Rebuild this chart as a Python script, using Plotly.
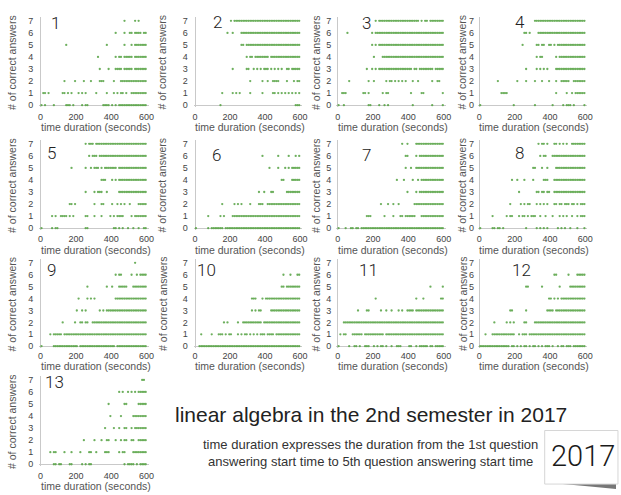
import plotly.graph_objects as go

# Each list holds one string per answer count (index 0..7).  Every character is
# a 10-second slot from 0 s to 600 s; '#' marks a student recorded in that slot.
q1 = [
    "#.#....#.. ....###.#. ...#.##... .....####. #.#.###### ##########",
    ".##.#..... ..##.#.#.. .#.#.#.... .#.....#.. .#.#.##.#. .#########",
    ".......... ...#.....# ....#...#. ...###.... .#...##### ##########",
    ".......... .......... .......... ...#....#. ..####.### ##.#######",
    ".......... .......... .......... ..#....... ..#.##.### ##.#######",
    ".......... ....#..... .......... .......#.. .......#.. .#.#######",
    ".......... .......... .......... .......... ..#....#.. ##.####.##",
    ".......... .......... .......... .......... .......#.. ...#.#....",
]
q2 = [
    ".......... ....#..... .......... .......... .......... .......###",
    ".......... .....#.... .#.#.#.... .#......#. ....##.#.# .#.#.#.#.#",
    ".......... .......... .......... .#......#. .#..####.. ..#...#.##",
    ".......... .......... .#.......# #..#.#.#.# ##.#.#.#.# ..##.#####",
    ".......... .......... .........# .##.###### ##.####### ##########",
    ".......... .......... ......##.# ########## ########## ##########",
    ".......... ........#. .#....#### ########## ########## ##########",
    ".......... .......... #.######## ########## ########## ##########",
]
q3 = [
    "#..#...... .......##. ...#..#.#. .......... ..#....... ...#.....#",
    "..###..... ....##.#.. .....#.##. .......... .#.....##. .........#",
    "......#... .......#.. #......#.# #.#.#.#.#. ..#..#.... ...#..##..",
    ".......... ......#..# .#.####### ########## ##.##.#### ####.#####",
    ".......... .......... #....##### ########## ########## ##########",
    ".......... .........# .#.####### ########## ########## ##########",
    ".....#.... .........# .######### ########## ########## ##########",
    ".......... .......... .#.####### ########## ######.#.# #.########",
]
q4 = [
    "#......... .........# .......... .#........ .#.....#.# ##.#.....#",
    ".......... ..####.... .......... .......... ...#.....# ..#.######",
    ".......... #......... .#....#... .#...#...# ...#..#### #..#######",
    ".......... .......... ......#... ..#.#.#.#. ...####### ##########",
    ".......... .......... .......... ..#.##.... ...#.##### ##########",
    ".......... .......... ....#..... ..##.##..# #.#.###### ##########",
    ".......... .......... .....##.#. ...####### ########## ##########",
    ".......... .......... .......... .######### ########## ##########",
]
q5 = [
    "#.....#.## .......... .....##... .......... .##.#.#..# ..#..#..##",
    "......#.#. .####.#.#. .....##... #...#....# .#.####... .#.#######",
    ".......... ......##.# .......... #...##.... #..#.#.#.. #....#####",
    ".......... .......... .....#.... #.###..#.. ....###### ##########",
    ".......... .......... .......... ....###... #.#.###### ##########",
    ".......... .......#.. .....#..#. ###.#.#### ###.###### ##########",
    ".......... .......... .......#.# ##.####### ########## ##########",
    ".......... .......... .....#.### .######### ########## ##########",
]
q6 = [
    "#......#.# ######.### ########## ########## ########## ##########",
    ".......#.. ....#.#... .######### ########## ########## ##########",
    ".......... .....#.... ..#.#.#... .#....###. .######### ##########",
    ".......... .......... .......... ......#..# ...##..... ..########",
    ".......... .......... .......... .......... .........# #....#####",
    ".......... .......... .......... .......... ..#....#.. .#.#.#####",
    ".......... .......... .......... ........#. .......#.. ...#...#.#",
    ".......... .......... .......... .......... .......... ..........",
]
q7 = [
    "#...#..##. ##.####### ########## ########## ########## ##########",
    ".......... ......###. ......#... .#...##.## ####...### ##########",
    ".......... .......... ....#...#. .#..#..... ...####### ##########",
    ".......... .......... .......... .........# ....#.#### ##########",
    ".......... .......... .......... ...#...#.. ..#..#.### ##########",
    ".......... .......... .......... ........#. .#..###### ##########",
    ".......... .......... .......... ........## ....#.#### ##########",
    ".......... .......... .......... ......#..# ....###### ##########",
]
q8 = [
    "#......##. ##.#...... ......#... ..#.#.#.#. ....#.#.#. .#...#...#",
    ".......#.. .....#.##. ..#.##.#.# ##..#..#.. .#...#.#.# ..#..#.###",
    ".......... .......#.. ...#.#.##. ..#.#.#.#. ..##.##.## #.##.#.###",
    ".......... .......... ..#....... ..##.##.## ..######## ##########",
    ".......... ........#. .#...#.... #.....###. ..######## ##########",
    ".......... .......... .......... ##...#..#. ...####### ##########",
    ".......... .......... .......... ....#.##.. .######### ##########",
    ".......... .......... .......... ...#.##.#. ..##.#.#.# ..########",
]
q9 = [
    "#......### ########## #.######## ########## ##.####### ##########",
    ".....#.### ##.####### ########## ########## ########## ##########",
    ".......... ..#......# ..##.##..# ########## ########## ##########",
    ".......... .......... #..#.#.... ...#.#.### ########## ##########",
    ".......... .......... .#....#.#. #......... ..######## ##########",
    ".......... .......... ......#... .......#.. #...#####. ..########",
    ".......... .......... .......... .......... ..#.##.... .#..#.####",
    ".......... .......... .......... .......... .......... ...#......",
]
q10 = [
    "..######## ########## ########## ########## ########## ##########",
    "...#.....# ...###.#.# #...#.#.## .#.#.#.### .####.#### ##########",
    ".......... ......#.#. ....#..### ########.# ########## ##########",
    ".......... .......... .......... ..#.#.##.. ...####### ##########",
    ".......... .......... .......... ..###...#. ########## ##########",
    ".......... .......... .......... .......... .........# #.########",
    ".......... .......... .......... .......... .......... #...#...##",
    ".......... .......... .......... .......... .......... ..........",
]
q11 = [
    "#.....#..# #.#..###.. #.#.##.#.. #..###.... ##..#.#### #.##.#####",
    ".#.##...## ####.##### ######.### ########## ########## ##########",
    "...####### ########## ########## ########## ########## ##########",
    ".......... .#....##.. ....#..#.. #...#.#..# ###.###### ##########",
    ".......... .......... .#........ .......... ....#...#. ........##",
    ".......... .......... .......... .......... .......... ..#......#",
    ".......... .......... .......... .......... .......... ..........",
    ".......... .......... .......... .......... .......... ..........",
]
q12 = [
    "########## #######.## .#.#.##.#. ##.#.#.### .#..#.##.# ##.#######",
    "...#...### ########## ..#.###.## ########## ########## ##########",
    "........#. .....#.#.# .....##... .######### ########## ##########",
    ".......... .......##. ......#... ........## ##.####### ##########",
    ".......... .......... .......... .........# #.#.#.#### ##########",
    ".......... .......... ......##.. .....#.... .....#.... .#########",
    ".......... .......... .......... .......... ..##...... #....#####",
    ".......... .......... .......... .......... .......... ..........",
]
q13 = [
    ".......##. ##....##.. ...#.#.##. .......... .......#.# ###.#.####",
    ".....#.##. ...#...#.. ..#....##. .#....###. ....#.##.. ..########",
    ".......... .......... ....#..... #...#..##. ..#..#.##. .##..#####",
    ".......... .......... .......... ......#... .#..#..##. .#.#######",
    ".......... .......... .......... .........# .....#.... ..########",
    ".......... .......... .......... ........#. .......##. .....#####",
    ".......... .......... .......... .......... ....#.#..# .#.#.#####",
    ".......... .......... .......... .......... .......... .......##.",
]

panels = [q1, q2, q3, q4, q5, q6, q7, q8, q9, q10, q11, q12, q13]
panel_labels = [str(i) for i in range(1, 14)]
answer_counts = list(range(8))
time_ticks = [0, 200, 400, 600]
SLOT = 10  # seconds per character

# ---- page geometry (pixels) ----
W, H = 621, 495
XR = (-8, 612)
YR = (-0.15, 7.3)
COL_T0 = [40, 196, 340, 483]      # pixel column of t = 0 s
COL_T600 = [147, 302, 447, 590]   # pixel column of t = 600 s
ROW_N7 = [20, 144, 264, 382]      # pixel row of 7 answers
ROW_N0 = [105, 229, 348, 467]     # pixel row of 0 answers
YTITLE_X = [11, 163, 318, 466]
YTICK_GAP = [5, 5, 4, 3]
XTICK_GAP = [3, 2, 1, 3]
XTITLE_DY = [22, 22, 20, 22]
LABEL_POS = [(49, 14), (213, 13), (363, 14), (518, 13),
             (45, 145), (212, 147), (363, 147), (518, 145),
             (45, 263), (197, 263), (360, 263), (515, 263),
             (43, 376)]

DOT = "#54a141"
TICK_FONT = dict(family="Liberation Sans", size=9, color="#444")
TITLE_FONT = dict(family="Liberation Sans", size=10.5, color="#555")


def slot_times(row):
    s = row.replace(" ", "")
    return [i * SLOT + SLOT / 2 for i, ch in enumerate(s) if ch == "#"]


def px(x):
    return x / W


def py(y):
    return 1 - y / H


fig = go.Figure()
layout = {}
annotations = []

for k, rows in enumerate(panels):
    r, c = divmod(k, 4)
    suffix = "" if k == 0 else str(k + 1)
    xs, ys = [], []
    for n, row in zip(answer_counts, rows):
        t = slot_times(row)
        xs += t
        ys += [n] * len(t)
    fig.add_trace(go.Scatter(
        x=xs, y=ys, mode="markers",
        xaxis="x" + suffix, yaxis="y" + suffix,
        marker=dict(size=2.3, color=DOT, opacity=0.85, line=dict(width=0)),
        cliponaxis=False, showlegend=False, hoverinfo="skip",
    ))

    sx = (COL_T600[c] - COL_T0[c]) / 600
    left = COL_T0[c] + XR[0] * sx
    right = COL_T0[c] + XR[1] * sx
    sy = (ROW_N0[r] - ROW_N7[r]) / 7
    top = ROW_N0[r] - YR[1] * sy
    bottom = ROW_N0[r] - YR[0] * sy

    layout["xaxis" + suffix] = dict(
        domain=[px(left), px(right)], range=list(XR), anchor="y" + suffix,
        tickmode="array", tickvals=time_ticks, ticks="", showgrid=False,
        zeroline=True, zerolinecolor="#c9c9c9", zerolinewidth=1,
        showline=False, tickfont=TICK_FONT, ticklabelstandoff=XTICK_GAP[r],
        fixedrange=True,
    )
    layout["yaxis" + suffix] = dict(
        domain=[py(bottom), py(top)], range=list(YR), anchor="x" + suffix,
        tickmode="array", tickvals=answer_counts, ticks="", showgrid=False,
        zeroline=True, zerolinecolor="#c9c9c9", zerolinewidth=1,
        showline=False, tickfont=TICK_FONT, ticklabelstandoff=YTICK_GAP[c],
        fixedrange=True,
    )

    # axis titles
    annotations.append(dict(
        xref="paper", yref="paper", x=px(YTITLE_X[c]),
        y=py((ROW_N0[r] + ROW_N7[r]) / 2 - 1),
        text="# of correct answers", textangle=-90, showarrow=False,
        xanchor="center", yanchor="middle", font=TITLE_FONT,
    ))
    annotations.append(dict(
        xref="paper", yref="paper", x=px((COL_T0[c] + COL_T600[c]) / 2 + 2),
        y=py(ROW_N0[r] + XTITLE_DY[r]),
        text="time duration (seconds)", showarrow=False,
        xanchor="center", yanchor="middle", font=TITLE_FONT,
    ))
    # panel number
    lx, ly = LABEL_POS[k]
    annotations.append(dict(
        xref="paper", yref="paper", x=px(lx - 1), y=py(ly - 4),
        text=panel_labels[k], showarrow=False, xanchor="left", yanchor="top",
        font=dict(family="Roboto", size=17, color="#222", weight=300),
    ))

# caption block
annotations.append(dict(
    xref="paper", yref="paper", x=px(374), y=py(417),
    text="linear algebra in the 2nd semester in 2017", showarrow=False,
    xanchor="center", yanchor="middle",
    font=dict(family="Liberation Sans", size=21, color="#222"),
))
annotations.append(dict(
    xref="paper", yref="paper", x=px(373), y=py(456),
    text="time duration expresses the duration from the 1st question<br>"
         "answering start time to 5th question answering start time",
    showarrow=False, xanchor="center", yanchor="middle", align="center",
    font=dict(family="Liberation Sans", size=13, color="#333"),
))
annotations.append(dict(
    xref="paper", yref="paper", x=px(588), y=py(459),
    text="2017", showarrow=False, xanchor="center", yanchor="middle",
    font=dict(family="Roboto", size=29, color="#1a1a1a", weight=300),
))

shapes = [
    # card shadow
    dict(type="path", xref="paper", yref="paper",
         path=f"M {px(556)},{py(486)} L {px(621)},{py(486)} L {px(621)},{py(492)} "
              f"Q {px(590)},{py(489)} {px(556)},{py(486)} Z",
         fillcolor="#555", opacity=0.8, line=dict(width=0), layer="below"),
    # card
    dict(type="rect", xref="paper", yref="paper",
         x0=px(549), x1=px(623), y0=py(487), y1=py(433),
         fillcolor="white", line=dict(color="#d6d6d6", width=1), layer="below"),
]

fig.update_layout(
    width=W, height=H, margin=dict(l=0, r=0, t=0, b=0),
    paper_bgcolor="white", plot_bgcolor="white",
    annotations=annotations, shapes=shapes, **layout,
)

fig.write_html("out.html", config={"displayModeBar": False})
